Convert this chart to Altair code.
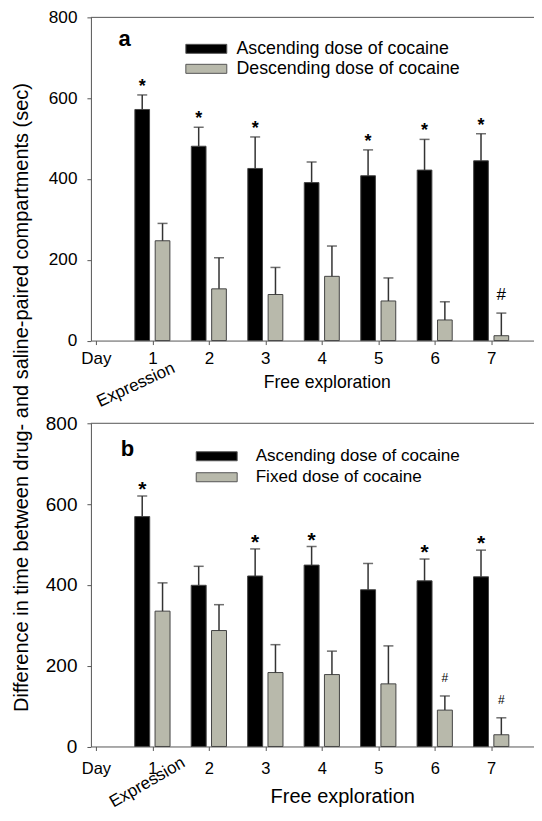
import altair as alt
import pandas as pd

FONT = "Liberation Sans"

days = [1, 2, 3, 4, 5, 6, 7]
x_ticks = [0, 1, 2, 3, 4, 5, 6, 7]
y_ticks = [0, 200, 400, 600, 800]

# Panel a
a_series = ["Ascending dose of cocaine", "Descending dose of cocaine"]
a_asc = [572, 481, 426, 391, 408, 422, 445]
a_asc_err = [36, 47, 78, 51, 64, 76, 67]
a_asc_sig = ["*", "*", "*", "", "*", "*", "*"]
a_desc = [247, 128, 114, 159, 98, 51, 12]
a_desc_err = [43, 77, 67, 75, 57, 45, 56]
a_desc_sig = ["", "", "", "", "", "", "#"]

# Panel b
b_series = ["Ascending dose of cocaine", "Fixed dose of cocaine"]
b_asc = [569, 399, 422, 449, 388, 410, 420]
b_asc_err = [51, 47, 67, 46, 65, 54, 66]
b_asc_sig = ["*", "", "*", "*", "", "*", "*"]
b_fix = [335, 287, 183, 178, 155, 90, 29]
b_fix_err = [70, 64, 69, 58, 94, 35, 42]
b_fix_sig = ["", "", "", "", "", "#", "#"]

Y_TITLE = "Difference in time between drug- and saline-paired compartments (sec)"
COLORS = ["#000000", "#b8b9ab"]


def make_df(series, means, errs, sigs):
    rows = []
    for name, m_list, e_list, s_list in zip(series, means, errs, sigs):
        for d, m, e, s in zip(days, m_list, e_list, s_list):
            rows.append({"day": d, "series": name, "mean": m, "err": e, "sig": s})
    return pd.DataFrame(rows)


def panel(df, series, letter, cfg):
    xaxis = alt.Axis(
        values=x_ticks, labelExpr="datum.value == 0 ? 'Day' : datum.label",
        title="Free exploration", titleFontSize=cfg["xtitle_fs"], titleFontWeight="normal",
        titleX=cfg["xtitle_x"], titleY=cfg["xtitle_y"], titleAlign="center",
        titleBaseline="middle", titleColor="black", titleFont=FONT,
        labelFontSize=cfg["xlab_fs"], labelPadding=cfg["xlab_pad"], labelFont=FONT,
        labelColor="black", tickSize=4, tickColor="#555", domainColor="#555",
        grid=False,
    )
    yaxis_kw = dict(
        values=y_ticks, labelFontSize=cfg["ylab_fs"], labelPadding=10, labelFont=FONT,
        labelColor="black", tickSize=4, tickColor="#555", domainColor="#555", grid=False,
    )
    if cfg["ytitle"]:
        yaxis_kw.update(
            title=Y_TITLE, titleFontSize=20, titleFontWeight="normal", titleFont=FONT,
            titleColor="black", titleX=-63.5, titleY=380, titleAngle=270,
            titleAlign="center", titleBaseline="alphabetic",
        )
    else:
        yaxis_kw.update(title=None)
    yaxis = alt.Axis(**yaxis_kw)

    xscale = alt.Scale(domain=[0, 7.785], nice=False, zero=False)
    yscale = alt.Scale(domain=[0, 800], nice=False)
    X = alt.X("pos:Q", scale=xscale, axis=xaxis)
    Y = alt.Y("mean:Q", scale=yscale, axis=yaxis, stack=None)
    YT = alt.Y("top:Q", scale=yscale, axis=yaxis)

    base = alt.Chart(df).transform_calculate(
        pos=f"datum.day + (datum.series == '{series[0]}' ? -0.18 : 0.18)",
        top="datum.mean + datum.err",
    )

    bars = base.mark_bar(size=cfg["bar_w"], orient="vertical", stroke="#444", strokeWidth=1).encode(
        x=X, y=Y,
        fill=alt.Fill(
            "series:N", scale=alt.Scale(domain=series, range=COLORS),
            legend=alt.Legend(
                title=None, orient="none", legendX=cfg["leg_x"], legendY=cfg["leg_y"],
                symbolType="M-2,-0.44L2,-0.44L2,0.44L-2,0.44Z", symbolSize=420,
                symbolStrokeColor="#555", symbolStrokeWidth=1,
                labelFontSize=cfg["leg_fs"], labelOffset=cfg["leg_off"], labelFont=FONT,
                labelColor="black", rowPadding=cfg["leg_rowpad"], padding=0, labelLimit=0,
            ),
        ),
    )
    rules = base.mark_rule(color="#333", strokeWidth=1.5).encode(x=X, y=Y, y2="top:Q")
    caps = base.mark_tick(orient="horizontal", size=10, thickness=1.5, color="#333").encode(
        x=X, y=YT
    )
    stars = base.transform_filter("datum.sig == '*'").mark_text(
        font=FONT, fontSize=cfg["star_fs"], fontWeight="bold", baseline="alphabetic",
        dy=cfg["star_dy"], color="black",
    ).encode(x=X, y=YT, text="sig:N")
    hashes = base.transform_filter("datum.sig == '#'").mark_text(
        font=FONT, fontSize=cfg["hash_fs"], baseline="alphabetic",
        dy=cfg["hash_dy"], color="black",
    ).encode(x=X, y=YT, text="sig:N")

    frame = alt.Chart(pd.DataFrame({"k": [0]})).mark_rule(color="#555", strokeWidth=1).encode(
        y=alt.datum(800)
    )

    letter_df = pd.DataFrame({"pos": [cfg["letter_pos"][0]], "mean": [cfg["letter_pos"][1]], "t": [letter]})
    letter_txt = alt.Chart(letter_df).mark_text(
        font=FONT, fontSize=22, fontWeight="bold", align="left", baseline="alphabetic", color="black"
    ).encode(x=X, y=Y, text="t:N")

    expr_df = pd.DataFrame({"pos": [cfg["expr_pos"][0]], "mean": [cfg["expr_pos"][1]], "t": ["Expression"]})
    expr_txt = alt.Chart(expr_df).mark_text(
        font=FONT, fontSize=cfg["expr_fs"], align="right", baseline="alphabetic",
        angle=cfg["expr_angle"], color="black",
    ).encode(x=X, y=Y, text="t:N")

    return alt.layer(frame, bars, rules, caps, stars, hashes, letter_txt, expr_txt).properties(
        width=450, height=323.5
    )


top_cfg = dict(
    xtitle_fs=17.6, xtitle_x=236, xtitle_y=42, xlab_fs=17, xlab_pad=6, ylab_fs=17.2,
    ytitle=True, bar_w=14.7, leg_x=104.5, leg_y=20.5, leg_fs=17.8, leg_off=19.2, leg_rowpad=0,
    star_fs=18, star_dy=-3, hash_fs=17, hash_dy=-13, letter_pos=(0.4, 728),
    expr_pos=(1.42, -77), expr_angle=335, expr_fs=17,
)
bot_cfg = dict(
    xtitle_fs=20, xtitle_x=251.5, xtitle_y=49.7, xlab_fs=16.5, xlab_pad=10.5, ylab_fs=19,
    ytitle=False, bar_w=15, leg_x=114.9, leg_y=22, leg_fs=17.1, leg_off=28, leg_rowpad=1,
    star_fs=21, star_dy=0, hash_fs=12, hash_dy=-14, letter_pos=(0.44, 719),
    expr_pos=(1.6, -48), expr_angle=330, expr_fs=17,
)

df_a = make_df(a_series, [a_asc, a_desc], [a_asc_err, a_desc_err], [a_asc_sig, a_desc_sig])
df_b = make_df(b_series, [b_asc, b_fix], [b_asc_err, b_fix_err], [b_asc_sig, b_fix_sig])

top = panel(df_a, a_series, "a", top_cfg)
bottom = panel(df_b, b_series, "b", bot_cfg)

chart = alt.vconcat(top, bottom, spacing=82.3, bounds="flush").resolve_scale(
    fill="independent"
).resolve_legend(fill="independent").properties(
    padding={"left": 3, "top": 0, "right": -7.5, "bottom": 0}
).configure_view(stroke=None)

chart.save("out.html", embed_options={"renderer": "svg", "actions": False})
